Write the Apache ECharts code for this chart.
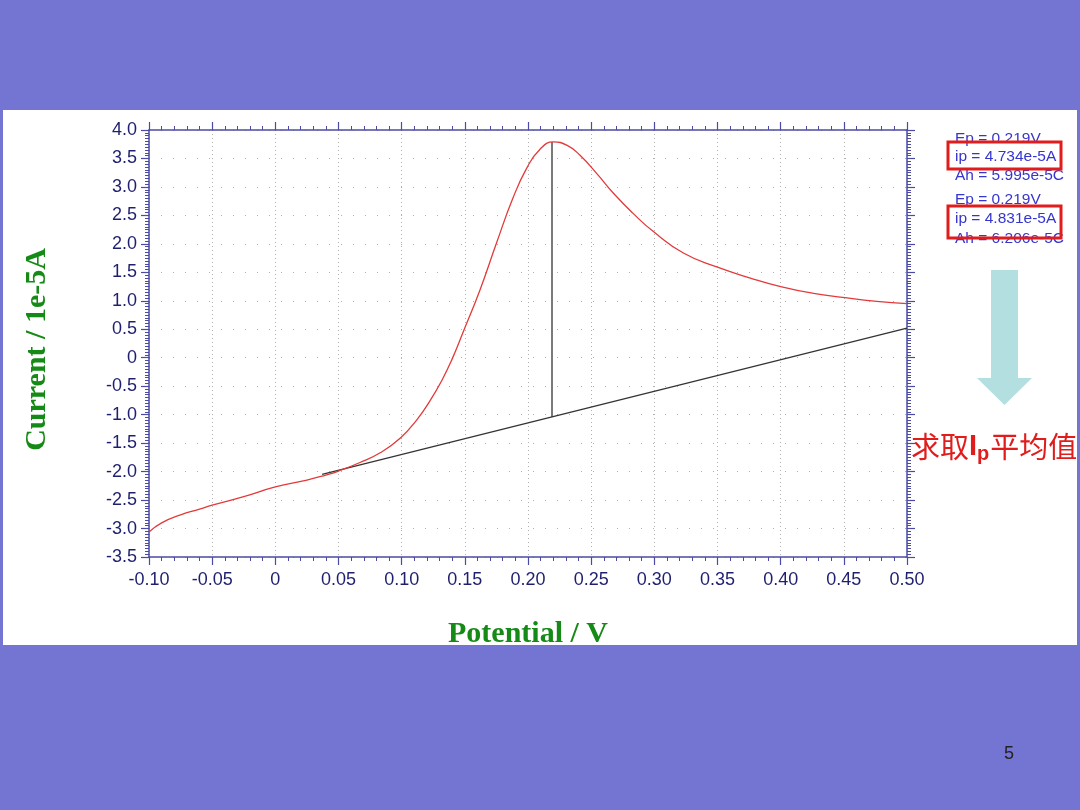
<!DOCTYPE html>
<html><head><meta charset="utf-8">
<script src="https://cdn.jsdelivr.net/npm/echarts@6/dist/echarts.min.js"></script>
<style>html,body{margin:0;padding:0;background:#7474d2;}#c{width:1080px;height:810px;}</style>
</head><body><div id="c"></div>
<script>
// Data
const potential = [-0.100,-0.090,-0.075,-0.060,-0.050,-0.025,0.000,0.025,0.040,0.050,0.067,0.083,0.099,0.112,0.122,0.132,0.140,0.149,0.162,0.175,0.188,0.199,0.209,0.220,0.231,0.241,0.255,0.268,0.283,0.299,0.323,0.350,0.376,0.400,0.426,0.449,0.476,0.500];
const current = [-3.06,-2.90,-2.76,-2.66,-2.59,-2.44,-2.27,-2.15,-2.06,-1.99,-1.84,-1.67,-1.41,-1.09,-0.77,-0.39,-0.02,0.47,1.19,2.01,2.80,3.33,3.65,3.79,3.73,3.56,3.22,2.88,2.54,2.22,1.84,1.59,1.40,1.25,1.13,1.06,0.99,0.95];
const baselineX = [0.037, 0.500];
const baselineY = [-2.05, 0.52];
const peakX = [0.219, 0.219];
const peakY = [-1.04, 3.79];
const readouts1 = ["Ep = 0.219V", "ip = 4.734e-5A", "Ah = 5.995e-5C"];
const readouts2 = ["Ep = 0.219V", "ip = 4.831e-5A", "Ah = 6.206e-5C"];

const zip = (a, b) => a.map((v, i) => [v, b[i]]);
const axisColor = '#4b4ba6';
const labelColor = '#1f1f70';
const titleColor = '#168a16';
const xFmt = v => Math.abs(v) < 1e-9 ? '0' : v.toFixed(2);
const yFmt = v => Math.abs(v) < 1e-9 ? '0' : v.toFixed(1);

const chart = echarts.init(document.getElementById('c'));
const xCommon = {type:'value', min:-0.1, max:0.5, interval:0.05,
  axisLine:{show:true, onZero:false, lineStyle:{color:axisColor, width:1.5}},
  axisTick:{show:true, inside:false, length:8, lineStyle:{color:axisColor, width:1.2}},
  minorTick:{show:true, splitNumber:5, length:4, lineStyle:{color:axisColor, width:1}}};
const yCommon = {type:'value', min:-3.5, max:4, interval:0.5,
  axisLine:{show:true, onZero:false, lineStyle:{color:axisColor, width:1.5}},
  axisTick:{show:true, inside:false, length:8, lineStyle:{color:axisColor, width:1.2}},
  minorTick:{show:true, splitNumber:10, length:4, lineStyle:{color:axisColor, width:1}}};

const rtText = (txt, y) => ({type:'text', z:100, left:955, top:y, style:{text:txt, fill:'#3535d0', font:'15.5px "Liberation Sans", Arial'}});

chart.setOption({
  backgroundColor:'#7474d2',
  animation:false,
  grid:{left:149, top:130, right:173, bottom:253, containLabel:false},
  xAxis:[
    Object.assign({}, xCommon, {position:'bottom',
      axisLabel:{color:labelColor, fontSize:18, fontFamily:'"Liberation Sans", Arial', margin:14, formatter:xFmt},
      splitLine:{show:true, lineStyle:{color:'#b0b0b0', type:[1,3], width:1}},
      name:'Potential / V', nameLocation:'middle', nameGap:62,
      nameTextStyle:{color:titleColor, fontSize:30, fontWeight:'bold', fontFamily:'"Liberation Serif", "Times New Roman", serif'}}),
    Object.assign({}, xCommon, {position:'top', axisLabel:{show:false}, splitLine:{show:false}})
  ],
  yAxis:[
    Object.assign({}, yCommon, {position:'left',
      axisLabel:{color:labelColor, fontSize:18, fontFamily:'"Liberation Sans", Arial', margin:12, formatter:yFmt},
      splitLine:{show:true, lineStyle:{color:'#b0b0b0', type:[1,11], width:1}},
      name:'Current / 1e-5A', nameLocation:'middle', nameGap:97, nameRotate:90,
      nameTextStyle:{color:titleColor, fontSize:30, fontWeight:'bold', fontFamily:'"Liberation Serif", "Times New Roman", serif', padding:[0,12,0,0]}}),
    Object.assign({}, yCommon, {position:'right', axisLabel:{show:false}, splitLine:{show:false}})
  ],
  series:[
    {type:'line', data:zip(potential, current), smooth:true, showSymbol:false, symbol:'none',
     lineStyle:{color:'#e23a3a', width:1.3}, z:5},
    {type:'line', data:zip(baselineX, baselineY), showSymbol:false, symbol:'none',
     lineStyle:{color:'#333333', width:1.3}, z:4},
    {type:'line', data:zip(peakX, peakY), showSymbol:false, symbol:'none',
     lineStyle:{color:'#333333', width:1.3}, z:4}
  ],
  graphic:[
    {type:'rect', z:-100, shape:{x:3, y:110, width:1074, height:535}, style:{fill:'#ffffff'}},
    rtText(readouts1[0], 131), rtText(readouts1[1], 149), rtText(readouts1[2], 168),
    rtText(readouts2[0], 192), rtText(readouts2[1], 211), rtText(readouts2[2], 231),
    {type:'rect', z:101, shape:{x:948, y:142, width:113, height:27}, style:{fill:'none', stroke:'#e01c1c', lineWidth:3}},
    {type:'rect', z:101, shape:{x:948, y:206, width:113, height:32}, style:{fill:'none', stroke:'#e01c1c', lineWidth:3}},
    {type:'rect', z:100, shape:{x:991, y:270, width:27, height:108}, style:{fill:'#b4dfe0'}},
    {type:'polygon', z:100, shape:{points:[[977,378],[1032,378],[1004.5,405]]}, style:{fill:'#b4dfe0'}},
    {type:'text', z:100, left:911, top:432, style:{
      text:'{a|求取}{b|I}{c|p}{a|平均值}',
      rich:{
        a:{fill:'#e01c1c', fontSize:29, fontFamily:'"Noto Sans CJK SC"'},
        b:{fill:'#e01c1c', fontSize:29, fontWeight:'bold', fontFamily:'"Liberation Sans", Arial'},
        c:{fill:'#e01c1c', fontSize:20, fontWeight:'bold', fontFamily:'"Liberation Sans", Arial', padding:[16,1,0,0]}
      }}},
    {type:'text', z:100, left:1004, top:745, style:{text:'5', fill:'#222222', font:'18px "Liberation Sans", Arial'}}
  ]
});
</script></body></html>
